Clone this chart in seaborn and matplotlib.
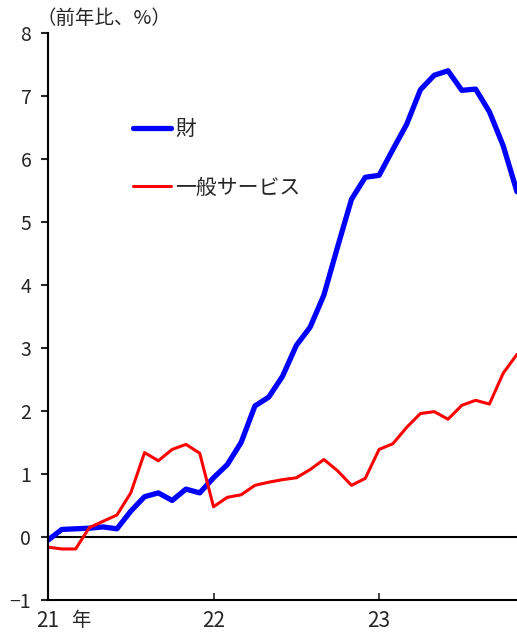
import numpy as np
import pandas as pd
import matplotlib
matplotlib.use("Agg")
import matplotlib.pyplot as plt
import seaborn as sns

# monthly data, 2021-01 .. 2023-11 (index 0..34)
months = list(range(35))
goods = [-0.05, 0.12, 0.13, 0.14, 0.16, 0.13, 0.41, 0.64, 0.70, 0.58,
         0.76, 0.70, 0.94, 1.15, 1.50, 2.08, 2.22, 2.55, 3.04, 3.33,
         3.84, 4.61, 5.36, 5.71, 5.74, 6.15, 6.55, 7.10, 7.33, 7.40,
         7.09, 7.11, 6.75, 6.21, 5.48]
services = [-0.16, -0.19, -0.19, 0.15, 0.25, 0.35, 0.70, 1.34, 1.21, 1.39,
            1.47, 1.33, 0.48, 0.63, 0.67, 0.82, 0.87, 0.91, 0.94, 1.07,
            1.23, 1.05, 0.82, 0.93, 1.39, 1.48, 1.74, 1.96, 1.99, 1.87,
            2.09, 2.17, 2.11, 2.60, 2.90]
series_names = ["財", "一般サービス"]
xtick_pos = [0, 12, 24]
xtick_labels = ["21", "22", "23"]

df = pd.DataFrame({
    "month": months * 2,
    "value": goods + services,
    "series": [series_names[0]] * len(goods) + [series_names[1]] * len(services),
})

sns.set_style("white")
plt.rcParams["font.family"] = ["Noto Sans CJK JP", "DejaVu Sans"]

fig = plt.figure(figsize=(5.17, 6.35), dpi=100)
ax = fig.add_axes([48 / 517, 35 / 635, 1 - 48 / 517, 567 / 635])

sns.lineplot(data=df, x="month", y="value", hue="series", size="series",
             palette={series_names[0]: "#0000ff", series_names[1]: "#ff0000"},
             sizes={series_names[0]: 3.8, series_names[1]: 2.2},
             ax=ax)
ax.axhline(0, color="black", lw=1.5, zorder=1)

ax.set_xlim(0, 34)
ax.set_ylim(-1, 8)
ax.set_yticks(range(-1, 9))
ax.set_yticklabels(["−1"] + [str(v) for v in range(0, 9)], fontsize=14)
ax.set_xticks(xtick_pos)
ax.set_xticklabels(xtick_labels, fontsize=15)
ax.set_xlabel("")
ax.set_ylabel("")

for s in ["top", "right"]:
    ax.spines[s].set_visible(False)
for s in ["left", "bottom"]:
    ax.spines[s].set_color("black")
    ax.spines[s].set_linewidth(1.5)

ax.tick_params(axis="y", direction="out", length=5, width=1.5, pad=7, left=True)
ax.tick_params(axis="x", direction="in", length=5, width=1.2, pad=7, bottom=True)
ax.text(2.4, -1.32, "年", fontsize=14, va="center", ha="center")

fig.text(37 / 517, 1 - 18 / 635, "（前年比、%）", fontsize=14, va="center", ha="left")

handles, labels = ax.get_legend_handles_labels()
ax.legend(handles, labels, loc="upper left", bbox_to_anchor=(0.16, 0.868),
          frameon=False, fontsize=15, handlelength=1.8, handletextpad=0.2,
          labelspacing=1.75, borderpad=0)

fig.savefig("out.png", dpi=100)
